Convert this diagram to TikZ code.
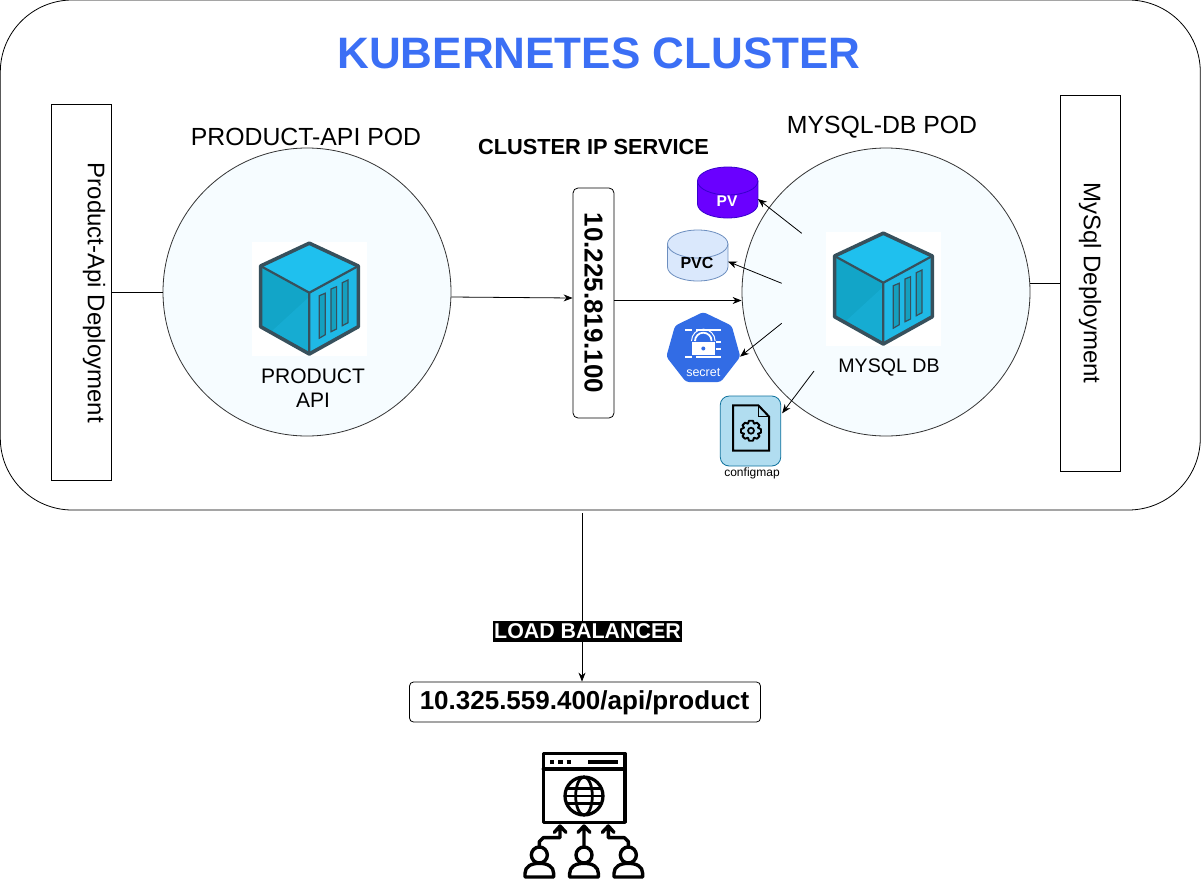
\documentclass[tikz,border=0pt]{standalone}
\usepackage{fontspec}
\setmainfont{Liberation Sans}
\usetikzlibrary{arrows.meta}
\definecolor{podfill}{HTML}{F6FCFF}
\definecolor{titleblue}{HTML}{3B6FF5}
\definecolor{cubedark}{HTML}{37505C}
\definecolor{cubetop}{HTML}{1FC0EE}
\definecolor{cubeleft}{HTML}{12A5C8}
\definecolor{cubelow}{HTML}{16ACD2}
\definecolor{cuberight}{HTML}{1FB9E6}
\definecolor{cubeslot}{HTML}{14A0BF}
\definecolor{pvfill}{HTML}{6A00FF}
\definecolor{pvline}{HTML}{3700CC}
\definecolor{pvcfill}{HTML}{DAE8FC}
\definecolor{pvcline}{HTML}{6C8EBF}
\definecolor{k8sblue}{HTML}{326CE5}
\definecolor{cmfill}{HTML}{B1DDF0}
\definecolor{cmline}{HTML}{10739E}
\newcommand{\fsz}[1]{\fontsize{#1pt}{#1pt}\selectfont}
\tikzset{
  line/.style={draw=black,line width=0.8pt},
  arr/.style={line,-{Stealth[length=9pt,width=7pt]}},
  podcircle/.style={circle,draw=black!80,line width=0.8pt,fill=podfill,minimum size=288pt,inner sep=0pt},
  depbox/.style={draw=black,fill=white,line width=0.8pt,minimum width=376pt,minimum height=60pt,inner sep=0pt,rotate=-90},
  lbl/.style={inner sep=0pt,align=center},
  containericon/.pic={
    \fill[white] (-57,-51) rectangle (58,63);
    \fill[cubetop] (0,-49.5)--(49,-26.7)--(0,0)--(-48.7,-26.7)--cycle;
    \fill[cubeleft] (-48.7,-26.7)--(0,0)--(0,61.3)--(-48.7,34)--cycle;
    \fill[cubelow] (0,4)--(0,61.3)--(-37,38)--cycle;
    \fill[cuberight] (0,0)--(49,-26.7)--(49,34)--(0,61.3)--cycle;
    \draw[cubedark,line width=3.6pt,line join=round] (0,-49.5)--(49,-26.7)--(49,34)--(0,61.3)--(-48.7,34)--(-48.7,-26.7)--cycle;
    \draw[cubedark,line width=2.2pt] (-48.7,-26.7)--(0,0)--(49,-26.7) (0,0)--(0,61.3);
    \draw[cubedark,fill=cubeslot,line width=1.2pt] (10,3)--(16,0.5)--(16,42)--(10,45.5)--cycle;
    \draw[cubedark,fill=cubeslot,line width=1.2pt] (21.7,-3.7)--(27.3,-6)--(27.3,36.3)--(21.7,39)--cycle;
    \draw[cubedark,fill=cubeslot,line width=1.2pt] (33,-10)--(38.7,-12.7)--(38.7,30)--(33,33)--cycle;
  }
}
\begin{document}
\begin{tikzpicture}[x=1pt,y=-1pt]
\useasboundingbox (0,0) rectangle (1202,881);
\fill[white] (0,0) rectangle (1202,881);
% cluster
\node[draw=black,line width=0.8pt,fill=white,rounded corners=72pt,minimum width=1200pt,minimum height=510pt,inner sep=0pt] (cluster) at (600.3,255) {};
\node[lbl,text=titleblue,font=\fsz{44}\bfseries] (title) at (599,53) {KUBERNETES CLUSTER};
% deployments
\node[depbox] (apidep) at (81,292) {};
\node[lbl,rotate=-90,font=\fsz{24}] (apideptext) at (94,293) {Product-Api Deployment};
\node[depbox] (dbdep) at (1090,283) {};
\node[lbl,rotate=-90,font=\fsz{24}] (dbdeptext) at (1090,283) {MySql Deployment};
% pods
\node[podcircle] (apipod) at (307,292) {};
\node[podcircle] (dbpod) at (886,292) {};
\draw[line] (apidep.north) -- (apipod.west);
\draw[line] (dbpod.east |- dbdep.south) -- (dbdep.south);
\pic at (309.3,292.7) {containericon};
\pic at (883.3,282.7) {containericon};
\node[lbl,font=\fsz{24.8}] (apititle) at (306,137) {PRODUCT-API POD};
\node[lbl,font=\fsz{24.8}] (dbtitle) at (882,127) {MYSQL-DB POD};
\node[lbl,font=\fsz{21}] (apitext) at (313,388) {PRODUCT\\[3pt]API};
\node[lbl,font=\fsz{19.6}] (dbtext) at (889,368) {MYSQL DB};
% service
\node[lbl,font=\fsz{21.8}\bfseries] (svctitle) at (593.5,147) {CLUSTER IP SERVICE};
\node[draw=black,line width=0.8pt,fill=white,rounded corners=5pt,minimum width=230pt,minimum height=41pt,inner sep=0pt,rotate=-90,font=\fsz{26}\bfseries] (service) at (593.5,303) {10.225.819.100};
\draw[arr] ([yshift=-5pt]apipod.east) -- ([yshift=5pt]service.south);
\draw[arr] ([yshift=2.5pt]service.north) -- ([yshift=-8.5pt]dbpod.west);
% PV
\draw[pvline,line width=0.8pt,fill=pvfill] (697.5,181) -- (697.5,204) arc[start angle=180,end angle=0,x radius=30.2,y radius=14] -- (757.9,181) -- cycle;
\draw[pvline,line width=0.8pt,fill=pvfill] (727.7,181) ellipse[x radius=30.2,y radius=14];
\node[lbl,minimum width=60pt,minimum height=51pt] (pv) at (727.7,192.5) {};
\node[lbl,text=white,font=\fsz{15.5}\bfseries] (pvtext) at (727,201.5) {PV};
% PVC
\draw[pvcline,line width=0.8pt,fill=pvcfill] (667.5,244) -- (667.5,267) arc[start angle=180,end angle=0,x radius=30.2,y radius=14] -- (727.9,244) -- cycle;
\draw[pvcline,line width=0.8pt,fill=pvcfill] (697.7,244) ellipse[x radius=30.2,y radius=14];
\node[lbl,minimum width=60pt,minimum height=51pt] (pvc) at (697.7,255.5) {};
\node[lbl,font=\fsz{16}\bfseries] (pvctext) at (697,263) {PVC};
% secret
\fill[k8sblue,rounded corners=3pt] (703.3,312) -- (731.7,325.7) -- (740.3,356.7) -- (720.7,382) -- (686,382) -- (666.3,356.7) -- (675,325.7) -- cycle;
\node[lbl,minimum width=73pt,minimum height=70pt] (secret) at (703.3,347) {};
\fill[white] (692.3,341.7) rectangle (715,355);
\draw[white,line width=1.8pt] (695,341) arc[start angle=180,end angle=360,radius=8.3];
\draw[white,line width=1pt] (691.5,341) arc[start angle=180,end angle=360,radius=11.8];
\fill[k8sblue] (703.3,348.5) circle (2pt);
\draw[white,line width=2pt] (696,330) -- (721,330) (685,330) -- (692,330) (696,357.3) -- (721,357.3) (685,357.3) -- (692,357.3) (716,348.5) -- (721,348.5) (716,342) -- (721,342);
\node[lbl,text=white,font=\fsz{12.5}] (secrettext) at (703.3,373) {secret};
% configmap
\node[draw=cmline,fill=cmfill,line width=0.8pt,rounded corners=9pt,minimum width=60.5pt,minimum height=70pt,inner sep=0pt] (configmap) at (750.5,431) {};
\draw[black,line width=2pt,line join=miter] (733,405.3) -- (758.3,405.3) -- (769,416.5) -- (769,450.5) -- (733,450.5) -- cycle;
\draw[black,line width=1.6pt] (758.3,405.3) -- (758.3,416.5) -- (769,416.5);
\begin{scope}[shift={(751,430.7)}]
  \draw[black,line width=1.9pt,line join=round] (-2,-10) -- (2,-10) -- (3,-7) -- (6,-8) -- (8.5,-5.5) -- (7,-3) -- (10,-1.5) -- (10,2) -- (7,3) -- (8.5,5.5) -- (6,8) -- (3,7) -- (2,10) -- (-2,10) -- (-3,7) -- (-6,8) -- (-8.5,5.5) -- (-7,3) -- (-10,2) -- (-10,-1.5) -- (-7,-3) -- (-8.5,-5.5) -- (-6,-8) -- (-3,-7) -- cycle;
  \draw[black,line width=1.7pt] (0,0) circle (3pt);
\end{scope}
\node[lbl,font=\fsz{12}] (cmtext) at (752,473) {configmap};
% db arrows
\coordinate (pvfrom) at (801.7,233.3);
\coordinate (pvcfrom) at (781.7,283.3);
\coordinate (secfrom) at (781.7,323.3);
\coordinate (cmfrom) at (814,371);
\draw[arr] (pvfrom) -- ([yshift=-6.5pt]pv.east);
\draw[arr] (pvcfrom) -- ([yshift=-6pt]pvc.east);
\draw[arr] (secfrom) -- ([yshift=-9.7pt]secret.east);
\draw[arr] (cmfrom) -- ([yshift=17.7pt,xshift=1pt]configmap.east);
% load balancer
\node[lbl,draw=black,fill=white,line width=0.8pt,rounded corners=4pt,minimum width=351pt,minimum height=40pt,font=\fsz{26}\bfseries] (url) at (585,702) {};
\node[lbl,font=\fsz{26}\bfseries] (urltext) at (584.5,702.5) {10.325.559.400/api/product};
\draw[arr] ([xshift=-18.3pt,yshift=-3pt]cluster.south) -- ([xshift=-3pt]url.north);
\node[fill=black,text=white,inner xsep=1.5pt,inner ysep=2.5pt,font=\fsz{21.4}\bfseries] (lb) at (587.5,631.5) {LOAD BALANCER};
% web icon
\begin{scope}[shift={(510,745)},scale=1/3,line cap=round,line join=round]
  \draw[black,line width=3.4pt] (100,25) rectangle (345,232);
  \draw[black,line width=3.4pt] (100,72) -- (345,72);
  \draw[black,line width=4pt,line cap=butt] (120,50) -- (133,50) (145,50) -- (158,50) (170,50) -- (182,50) (235,50) -- (325,50);
  \draw[black,line width=3.2pt] (222,153) circle (57);
  \draw[black,line width=2.8pt] (222,153) ellipse[x radius=25,y radius=57];
  \draw[black,line width=2.8pt] (169,130) -- (275,130) (165,153) -- (279,153) (169,176) -- (275,176);
  \draw[black,line width=3.4pt] (88,305) -- (88,290) -- (100,278) -- (150,278) -- (150,245) (133,262) -- (150,243) -- (168,262);
  \draw[black,line width=3.4pt] (222,305) -- (222,245) (204,262) -- (222,243) -- (240,262);
  \draw[black,line width=3.4pt] (355,305) -- (355,290) -- (343,278) -- (295,278) -- (295,245) (277,262) -- (295,243) -- (312,262);
  \foreach \px in {88,222,355} {
    \draw[black,line width=3.4pt] (\px,330) circle (24);
    \draw[black,line width=3.4pt] (\px-43,396) -- (\px-43,385) .. controls (\px-43,365) and (\px-25,355) .. (\px,355) .. controls (\px+25,355) and (\px+43,365) .. (\px+43,385) -- (\px+43,396) -- cycle;
  }
\end{scope}
\end{tikzpicture}
\end{document}
